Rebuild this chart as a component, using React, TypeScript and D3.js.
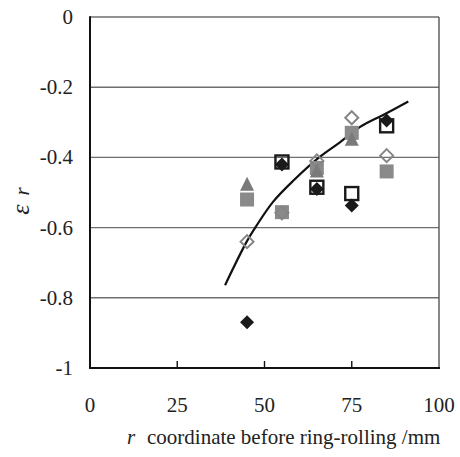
import React, { useEffect, useRef } from 'react';
import * as d3 from 'd3';

// r coordinate of the sampled positions
const rValues = [45, 55, 65, 75, 85];
// strain series (null = not visible)
const blackDiamond = [-0.87, -0.42, -0.49, -0.537, -0.295];
const openSquare = [null, -0.413, -0.485, -0.503, -0.31];
const grayDiamond = [-0.64, -0.558, -0.41, -0.287, -0.395];
const graySquare = [-0.52, -0.556, -0.43, -0.33, -0.44];
const grayTriangle = [-0.478, null, -0.44, -0.35, null];
// trend line, traced
const trendX = [38.7, 44.9, 47.8, 52.5, 58.3, 65.9, 71.6, 77.4, 84.0, 91.2];
const trendY = [-0.764, -0.64, -0.593, -0.526, -0.466, -0.398, -0.357, -0.313, -0.279, -0.241];

const xTicks = [0, 25, 50, 75, 100];
const yTicks = [0, -0.2, -0.4, -0.6, -0.8, -1];
const yTickLabels = ['0', '-0.2', '-0.4', '-0.6', '-0.8', '-1'];

function App() {
  const ref = useRef<SVGSVGElement>(null);

  useEffect(() => {
    const svg = d3.select(ref.current);
    svg.selectAll('*').remove();

    const left = 90, right = 439, top = 17, bottom = 368;
    const x = d3.scaleLinear().domain([0, 100]).range([left, right]);
    const y = d3.scaleLinear().domain([-1, 0]).range([bottom, top]);

    // grid lines
    svg.append('g')
      .selectAll('line')
      .data(yTicks.filter(t => t > -1))
      .join('line')
      .attr('x1', left).attr('x2', right)
      .attr('y1', d => y(d)).attr('y2', d => y(d))
      .attr('stroke', '#6e6e6e').attr('stroke-width', 1.4);

    // frame
    svg.append('line').attr('x1', right).attr('x2', right).attr('y1', top).attr('y2', bottom)
      .attr('stroke', '#555').attr('stroke-width', 1.4);
    svg.append('line').attr('x1', left).attr('x2', left).attr('y1', top - 0.7).attr('y2', bottom + 1)
      .attr('stroke', '#111').attr('stroke-width', 2);
    svg.append('line').attr('x1', left - 1).attr('x2', right + 1).attr('y1', bottom).attr('y2', bottom)
      .attr('stroke', '#111').attr('stroke-width', 2);

    // inner x ticks
    svg.append('g')
      .selectAll('line')
      .data(xTicks.slice(1, -1))
      .join('line')
      .attr('x1', d => x(d)).attr('x2', d => x(d))
      .attr('y1', bottom).attr('y2', bottom - 7)
      .attr('stroke', '#111').attr('stroke-width', 1.4);

    // tick labels
    svg.append('g')
      .selectAll('text')
      .data(xTicks)
      .join('text')
      .attr('x', d => x(d)).attr('y', 412)
      .attr('text-anchor', 'middle')
      .attr('font-size', 21).attr('fill', '#222')
      .text(d => d);
    svg.append('g')
      .selectAll('text')
      .data(yTicks)
      .join('text')
      .attr('x', 73).attr('y', d => y(d) + 7)
      .attr('text-anchor', 'end')
      .attr('font-size', 21).attr('fill', '#222')
      .text((d, i) => yTickLabels[i]);

    // axis titles
    const xt = svg.append('text')
      .attr('x', 127).attr('y', 444)
      .attr('font-size', 21).attr('fill', '#222');
    xt.append('tspan').attr('font-style', 'italic').text('r');
    xt.append('tspan').attr('x', 147).text('coordinate before ring-rolling /mm');

    const yt = svg.append('text')
      .attr('transform', `translate(29,201) rotate(-90)`)
      .attr('text-anchor', 'middle')
      .attr('font-size', 26).attr('font-style', 'italic').attr('fill', '#222');
    yt.append('tspan').text('ε');
    yt.append('tspan').attr('dx', 9).attr('font-size', 21).text('r');

    // trend line
    const pts = trendX.map((v, i) => [v, trendY[i]] as [number, number]);
    svg.append('path')
      .attr('d', d3.line<[number, number]>().x(d => x(d[0])).y(d => y(d[1])).curve(d3.curveCatmullRom)(pts))
      .attr('fill', 'none').attr('stroke', '#111').attr('stroke-width', 2.2);

    const pairs = (vals: (number | null)[]) =>
      rValues.map((r, i) => ({ r, v: vals[i] })).filter(d => d.v !== null) as { r: number; v: number }[];

    // black filled diamonds
    svg.append('g').selectAll('path').data(pairs(blackDiamond)).join('path')
      .attr('d', d => { const cx = x(d.r), cy = y(d.v), s = 7; return `M${cx},${cy - s}L${cx + s},${cy}L${cx},${cy + s}L${cx - s},${cy}Z`; })
      .attr('fill', '#1a1a1a');

    // open black squares
    svg.append('g').selectAll('rect').data(pairs(openSquare)).join('rect')
      .attr('x', d => x(d.r) - 6.5).attr('y', d => y(d.v) - 6.5)
      .attr('width', 13).attr('height', 13)
      .attr('fill', 'none').attr('stroke', '#1a1a1a').attr('stroke-width', 2.4);

    // gray filled squares
    svg.append('g').selectAll('rect').data(pairs(graySquare)).join('rect')
      .attr('x', d => x(d.r) - 7).attr('y', d => y(d.v) - 7)
      .attr('width', 14).attr('height', 14)
      .attr('fill', '#8a8a8a');

    // gray open diamonds
    svg.append('g').selectAll('path').data(pairs(grayDiamond)).join('path')
      .attr('d', d => { const cx = x(d.r), cy = y(d.v), s = 6.5; return `M${cx},${cy - s}L${cx + s},${cy}L${cx},${cy + s}L${cx - s},${cy}Z`; })
      .attr('fill', 'none').attr('stroke', '#858585').attr('stroke-width', 2);

    // gray triangles
    svg.append('g').selectAll('path').data(pairs(grayTriangle)).join('path')
      .attr('d', d => { const cx = x(d.r), cy = y(d.v); return `M${cx},${cy - 8}L${cx + 7},${cy + 6}L${cx - 7},${cy + 6}Z`; })
      .attr('fill', '#7a7a7a');
  }, []);

  return (
    <svg
      ref={ref}
      width={460}
      height={457}
      fontFamily="'Liberation Serif', 'DejaVu Serif', serif"
      style={{ position: 'absolute', left: 0, top: 0, background: '#fff' }}
    />
  );
}

export default App;
